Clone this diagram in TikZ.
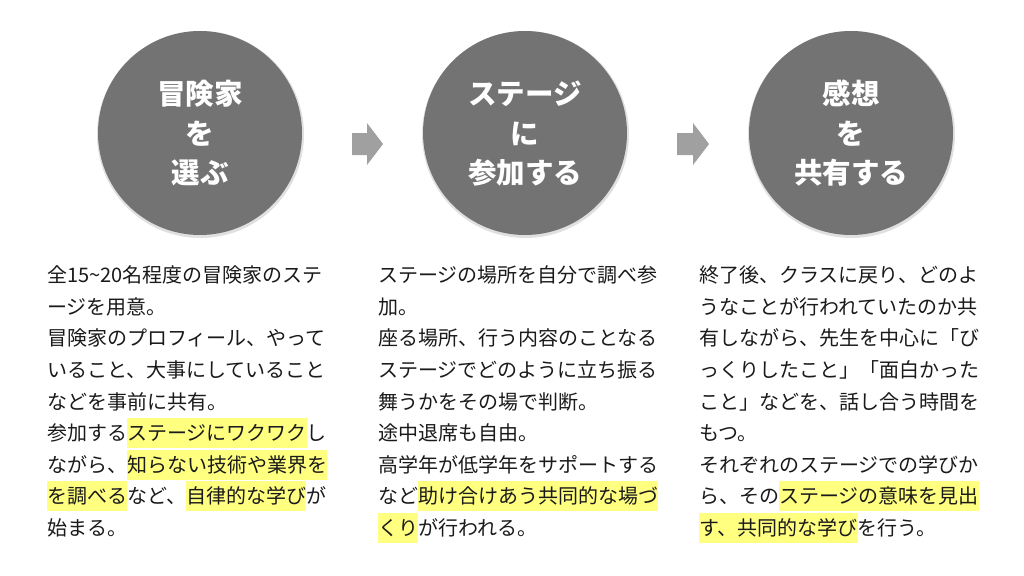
\documentclass[tikz,border=0pt]{standalone}
\usepackage{fontspec}
\setmainfont{Noto Sans CJK JP}
\definecolor{circfill}{HTML}{737373}
\definecolor{arrfill}{HTML}{A0A0A0}
\definecolor{hly}{HTML}{FFFF80}
\definecolor{txt}{HTML}{1A1A1A}
\newcommand{\bst}{\rule[-7.5pt]{0pt}{30pt}}
\newcommand{\hlt}[1]{{\setlength{\fboxsep}{0pt}\colorbox{hly}{\bst#1}}}
\newcommand{\cst}{\rule[-4pt]{0pt}{30pt}}
\tikzset{
  bodytext/.style={anchor=north west, inner sep=0pt, align=left, text=txt,
    font=\fontsize{20}{31.6}\selectfont},
  stepcircle/.style={circle, fill=circfill, minimum size=204pt, inner sep=0pt,
    align=center, text=white, font=\fontsize{28.5}{39.5}\selectfont\bfseries},
  circshadow/.style={circle, fill=black, opacity=0.12, minimum size=207pt, inner sep=0pt},
  blockarrow/.style={fill=arrfill}
}
\begin{document}
\begin{tikzpicture}[x=1pt,y=-1pt]
\useasboundingbox (0,0) rectangle (1024,575);
\fill[white] (0,0) rectangle (1024,575);

% shadows
\node[circshadow] (s1) at (200.5,134.5) {};
\node[circshadow] (s2) at (525.5,134.5) {};
\node[circshadow] (s3) at (851.5,134.5) {};

% circles
\node[stepcircle] (c1) at (200,133) {\cst 冒険家\\ \cst を\\ \cst 選ぶ};
\node[stepcircle] (c2) at (525,133) {\cst ステージ\\ \cst に\\ \cst 参加する};
\node[stepcircle] (c3) at (851,133) {\cst 感想\\ \cst を\\ \cst 共有する};

% arrows
\coordinate (a1) at (352,144);
\coordinate (a2) at (677,144);
\begin{scope}[shift={(a1)}]
\fill[blockarrow] (0,-11) -- (15,-11) -- (15,-21) -- (31,0) -- (15,21) -- (15,11) -- (0,11) -- cycle;
\end{scope}
\begin{scope}[shift={(a2)}]
\fill[blockarrow] (0,-11) -- (16,-11) -- (16,-21) -- (32,0) -- (16,21) -- (16,11) -- (0,11) -- cycle;
\end{scope}

% texts
\node[bodytext] (t1) at (47,260) {%
\bst 全15\textasciitilde 20名程度の冒険家のステ\\
\bst ージを用意。\\
\bst 冒険家のプロフィール、やって\\
\bst いること、大事にしていること\\
\bst などを事前に共有。\\
\bst 参加する\hlt{ステージにワクワク}し\\
\bst ながら、\hlt{知らない技術や業界を}\\
\bst \hlt{を調べる}など、\hlt{自律的な学び}が\\
\bst 始まる。};

\node[bodytext] (t2) at (378,260) {%
\bst ステージの場所を自分で調べ参\\
\bst 加。\\
\bst 座る場所、行う内容のことなる\\
\bst ステージでどのように立ち振る\\
\bst 舞うかをその場で判断。\\
\bst 途中退席も自由。\\
\bst 高学年が低学年をサポートする\\
\bst など\hlt{助け合けあう共同的な場づ}\\
\bst \hlt{くり}が行われる。};

\node[bodytext] (t3) at (699,260) {%
\bst 終了後、クラスに戻り、どのよ\\
\bst うなことが行われていたのか共\\
\bst 有しながら、先生を中心に「び\\
\bst っくりしたこと」「面白かった\\
\bst こと」などを、話し合う時間を\\
\bst もつ。\\
\bst それぞれのステージでの学びか\\
\bst ら、その\hlt{ステージの意味を見出}\\
\bst \hlt{す、共同的な学び}を行う。};
\end{tikzpicture}
\end{document}
